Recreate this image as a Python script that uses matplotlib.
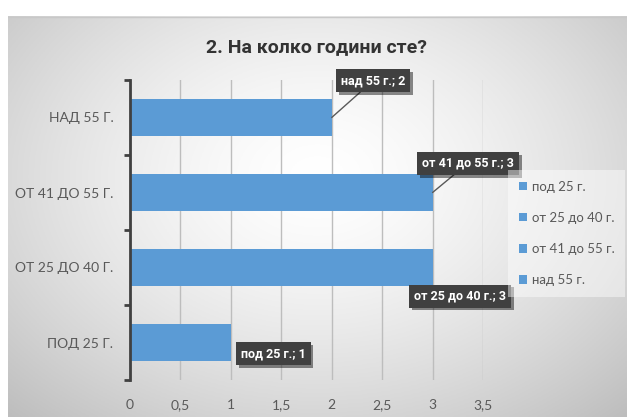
import numpy as np
import matplotlib.pyplot as plt
import matplotlib.patheffects as pe
from matplotlib.patches import Patch

# categories bottom-to-top, as drawn on the y axis
categories = ['ПОД 25 Г.', 'ОТ 25 ДО 40 Г.', 'ОТ 41 ДО 55 Г.', 'НАД 55 Г.']
series_names = ['под 25 г.', 'от 25 до 40 г.', 'от 41 до 55 г.', 'над 55 г.']
counts = [1, 3, 3, 2]
x_ticks = [0, 0.5, 1, 1.5, 2, 2.5, 3, 3.5]
x_ticklabels = ['0', '0,5', '1', '1,5', '2', '2,5', '3', '3,5']

BAR = '#5B9BD5'
GREY_TXT = '#595959'
NARROW = ['Liberation Sans Narrow', 'Roboto', 'DejaVu Sans']
LIGHT = ['Lato', 'Open Sans', 'DejaVu Sans']

W, H = 627, 417
fig = plt.figure(figsize=(W / 100, H / 100), dpi=100)
fig.patch.set_facecolor('white')

# chart area with a soft radial gradient
bg = fig.add_axes([8 / W, 0, (W - 8) / W, (H - 16) / H])
gx, gy = np.meshgrid(np.linspace(0, 1, 300), np.linspace(0, 1, 200))
r = np.sqrt(((gx - 0.5) / 0.75) ** 2 + ((gy - 0.4) / 0.85) ** 2)
shade = np.clip(1.0 - 0.27 * r ** 1.5, 0, 1)
bg.imshow(np.dstack([shade] * 3), aspect='auto', extent=[0, 1, 1, 0])
bg.plot([0, 1], [0.998, 0.998], color='#c8c8c8', lw=1, transform=bg.transAxes)
bg.set_axis_off()

ax = fig.add_axes([130 / W, (H - 380) / H, (483 - 130) / W, 300 / H])
ax.patch.set_alpha(0)
y = np.arange(len(categories))
ax.barh(y, counts, height=0.5, color=BAR, zorder=3)

ax.set_xlim(0, 3.5)
ax.set_ylim(-0.5, 3.5)
ax.set_xticks(x_ticks)
ax.set_xticklabels(x_ticklabels, color=GREY_TXT, fontsize=10, family=LIGHT)
ax.tick_params(axis='x', length=0, pad=14)
ax.grid(axis='x', color='#bdbdbd', lw=1, zorder=0)

# category boundaries get the bracket ticks, labels sit at the centres
ax.set_yticks([-0.5, 0.5, 1.5, 2.5, 3.5])
ax.set_yticklabels([])
ax.tick_params(axis='y', which='major', length=4, width=2, color='#404040', direction='out')
ax.set_yticks(y, minor=True)
ax.set_yticklabels(categories, minor=True, color=GREY_TXT, fontsize=10, family=LIGHT)
ax.tick_params(axis='y', which='minor', length=0, pad=12)

for s in ['top', 'right', 'bottom']:
    ax.spines[s].set_visible(False)
ax.spines['left'].set_color('#404040')
ax.spines['left'].set_linewidth(2)
ax.spines['left'].set_zorder(4)

# data labels: (index, text position, leader line?)
label_pos = [
    (0, (1.42, -0.15), False),
    (1, (3.27, 0.62), False),
    (2, (3.35, 2.39), True),
    (3, (2.41, 3.49), True),
]
shadow = [pe.withSimplePatchShadow(offset=(2, -2), shadow_rgbFace='black', alpha=0.45)]
for i, pos, leader in label_pos:
    arrow = dict(arrowstyle='-', color='#595959', lw=1, shrinkA=0, shrinkB=0) if leader else None
    t = ax.annotate(f'{series_names[i]}; {counts[i]}', xy=(counts[i], y[i]), xytext=pos,
                    textcoords='data', ha='center', va='center', color='white',
                    fontsize=9, fontweight='bold', family=NARROW,
                    bbox=dict(boxstyle='square,pad=0.4', fc='#404040', ec='none'),
                    arrowprops=arrow, annotation_clip=False, zorder=6)
    t.get_bbox_patch().set_path_effects(shadow)

fig.text(316 / W, 1 - 47 / H, '2. На колко години сте?', ha='center', va='center',
         fontsize=14, fontweight='bold', color='#333333', family=NARROW)

handles = [Patch(facecolor=BAR, edgecolor='none') for _ in series_names]
leg = fig.legend(handles, series_names, loc='upper left',
                 bbox_to_anchor=(508 / W, 1 - 170 / H), frameon=True,
                 handlelength=0.65, handleheight=0.65, handletextpad=0.35,
                 labelspacing=1.45, borderpad=0.8, borderaxespad=0,
                 prop={'family': LIGHT, 'size': 9.5})
for txt in leg.get_texts():
    txt.set_color(GREY_TXT)
frame = leg.get_frame()
frame.set_facecolor('white')
frame.set_alpha(0.45)
frame.set_edgecolor('none')
frame.set_boxstyle('square', pad=0)

fig.savefig('out.png', dpi=100)
